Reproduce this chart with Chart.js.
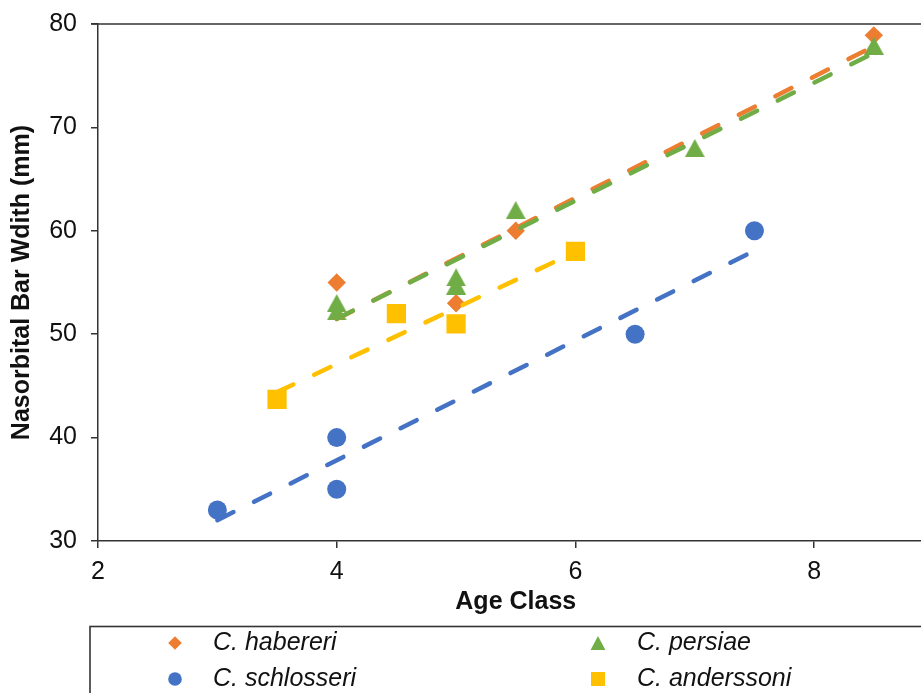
<!DOCTYPE html>
<html>
<head>
<meta charset="utf-8">
<script src="https://cdn.jsdelivr.net/npm/chart.js@4.4.1/dist/chart.umd.min.js"></script>
<style>
  html, body { margin: 0; padding: 0; background: #fff; overflow: hidden; }
  #wrap { width: 940px; height: 693px; }
</style>
</head>
<body>
<div id="wrap"><canvas id="c" width="940" height="693"></canvas></div>
<script>
// ---- Data ----
const seriesNames = ['C. habereri', 'C. persiae', 'C. schlosseri', 'C. anderssoni'];
const seriesColors = ['#ED7D31', '#70AD47', '#4472C4', '#FFC000'];

const ageHabereri = [4, 5, 5.5, 8.5];
const widthHabereri = [55, 53, 60, 78.9];

const agePersiae = [4, 4, 5, 5, 5.5, 7, 8.5];
const widthPersiae = [53, 52.2, 55.5, 54.7, 62, 68, 77.9];

const ageSchlosseri = [3, 4, 4, 6.5, 7.5];
const widthSchlosseri = [33, 40, 35, 50, 60];

const ageAnderssoni = [3.5, 4.5, 5, 6];
const widthAnderssoni = [43.7, 52, 51, 58];

const xTickValues = [2, 4, 6, 8];
const yTickValues = [30, 40, 50, 60, 70, 80];
const xTitle = 'Age Class';
const yTitle = 'Nasorbital Bar Wdith (mm)';

// ---- helpers ----
function toPoints(xs, ys) { return xs.map((x, i) => ({ x: x, y: ys[i] })); }
function linearTrend(xs, ys) {
  const n = xs.length;
  const mx = xs.reduce((a, b) => a + b, 0) / n;
  const my = ys.reduce((a, b) => a + b, 0) / n;
  let sxy = 0, sxx = 0;
  for (let i = 0; i < n; i++) { sxy += (xs[i] - mx) * (ys[i] - my); sxx += (xs[i] - mx) ** 2; }
  const slope = sxy / sxx, icpt = my - slope * mx;
  const x0 = Math.min(...xs), x1 = Math.max(...xs);
  return [{ x: x0, y: icpt + slope * x0 }, { x: x1, y: icpt + slope * x1 }];
}
function triangleImage(w, h, color) {
  const c = document.createElement('canvas');
  c.width = w; c.height = h;
  const g = c.getContext('2d');
  g.fillStyle = color;
  g.beginPath(); g.moveTo(w / 2, 0); g.lineTo(w, h); g.lineTo(0, h); g.closePath(); g.fill();
  return c;
}

const FONT = '"Liberation Sans", Arial, Helvetica, sans-serif';
Chart.defaults.font.family = FONT;
Chart.defaults.color = '#111';

const AXIS_COLOR = '#333333';
const triMarker = triangleImage(20, 18, seriesColors[1]);

const series = [
  { name: seriesNames[0], xs: ageHabereri, ys: widthHabereri, color: seriesColors[0], style: 'rectRot', radius: 9.2 },
  { name: seriesNames[1], xs: agePersiae, ys: widthPersiae, color: seriesColors[1], style: triMarker, radius: 10 },
  { name: seriesNames[2], xs: ageSchlosseri, ys: widthSchlosseri, color: seriesColors[2], style: 'circle', radius: 9.5 },
  { name: seriesNames[3], xs: ageAnderssoni, ys: widthAnderssoni, color: seriesColors[3], style: 'rect', radius: 13.6 }
];

const datasets = [];
series.forEach((s, i) => {
  datasets.push({
    type: 'scatter',
    label: s.name,
    data: toPoints(s.xs, s.ys),
    pointStyle: s.style,
    pointRadius: s.radius,
    pointHoverRadius: s.radius,
    pointBackgroundColor: s.color,
    pointBorderColor: s.color,
    pointBorderWidth: 0,
    backgroundColor: s.color,
    borderColor: s.color,
    showLine: false,
    order: 20 - i
  });
});
series.forEach((s, i) => {
  datasets.push({
    type: 'line',
    label: s.name + ' trend',
    data: linearTrend(s.xs, s.ys),
    borderColor: s.color,
    borderWidth: 4.5,
    borderDash: [18, 23],
    borderCapStyle: 'round',
    pointRadius: 0,
    fill: false,
    order: 10 - i
  });
});

const frameAndLegend = {
  id: 'frameAndLegend',
  afterDraw(chart) {
    const ctx = chart.ctx;
    const a = chart.chartArea;
    ctx.save();
    // top border of the plot area
    ctx.strokeStyle = AXIS_COLOR;
    ctx.lineWidth = 1.5;
    ctx.beginPath();
    ctx.moveTo(a.left - 7, a.top);
    ctx.lineTo(chart.width + 5, a.top);
    ctx.stroke();

    // legend box (runs off the right and bottom edges like the reference)
    ctx.strokeStyle = '#333';
    ctx.lineWidth = 1.6;
    ctx.strokeRect(90, 626.5, chart.width + 20, 100);

    const cols = [{ mx: 175, tx: 213 }, { mx: 598, tx: 637 }];
    const rows = [643, 679];
    const layout = [[0, 1], [2, 3]];
    ctx.font = 'italic 25px ' + FONT;
    ctx.textBaseline = 'middle';
    ctx.textAlign = 'left';
    layout.forEach((r, ri) => {
      r.forEach((si, ci) => {
        const s = series[si];
        const cx = cols[ci].mx, cy = rows[ri];
        ctx.fillStyle = s.color;
        ctx.beginPath();
        if (si === 0) {
          ctx.moveTo(cx, cy - 6.8); ctx.lineTo(cx + 6.8, cy); ctx.lineTo(cx, cy + 6.8); ctx.lineTo(cx - 6.8, cy); ctx.closePath();
        } else if (si === 1) {
          ctx.moveTo(cx, cy - 7); ctx.lineTo(cx + 7.4, cy + 7); ctx.lineTo(cx - 7.4, cy + 7); ctx.closePath();
        } else if (si === 2) {
          ctx.arc(cx, cy, 6.8, 0, Math.PI * 2);
        } else {
          ctx.rect(cx - 7, cy - 7, 14, 14);
        }
        ctx.fill();
        ctx.fillStyle = '#111';
        ctx.fillText(s.name, cols[ci].tx, cy);
      });
    });
    ctx.restore();
  }
};

new Chart(document.getElementById('c'), {
  type: 'scatter',
  data: { datasets: datasets },
  options: {
    responsive: false,
    devicePixelRatio: 1,
    animation: false,
    layout: { autoPadding: false, padding: { top: 24, right: 6.5, bottom: 76, left: 0 } },
    plugins: { legend: { display: false }, tooltip: { enabled: false } },
    scales: {
      x: {
        type: 'linear',
        min: 2, max: 9,
        afterBuildTicks: (sc) => { sc.ticks = xTickValues.map(v => ({ value: v })); },
        afterFit: (sc) => { sc.height = 76; sc.paddingLeft = 0; sc.paddingRight = 0; sc.paddingTop = 0; sc.paddingBottom = 0; },
        grid: { display: true, drawOnChartArea: false, drawTicks: true, tickLength: 7, color: AXIS_COLOR, lineWidth: 1.5 },
        border: { display: true, color: AXIS_COLOR, width: 1.5 },
        ticks: { font: { size: 25 }, color: '#111', padding: 9, maxRotation: 0 },
        title: { display: true, text: xTitle, font: { size: 25, weight: 'bold' }, color: '#111', padding: { top: 0, bottom: 0 } }
      },
      y: {
        type: 'linear',
        min: 30, max: 80,
        afterBuildTicks: (sc) => { sc.ticks = yTickValues.map(v => ({ value: v })); },
        afterFit: (sc) => { sc.width = 98; sc.paddingTop = 0; sc.paddingBottom = 0; sc.paddingLeft = 0; sc.paddingRight = 0; },
        grid: { display: true, drawOnChartArea: false, drawTicks: true, tickLength: 7, color: AXIS_COLOR, lineWidth: 1.5 },
        border: { display: true, color: AXIS_COLOR, width: 1.5 },
        ticks: { font: { size: 25 }, color: '#111', padding: 14 },
        title: { display: true, text: yTitle, font: { size: 25, weight: 'bold' }, color: '#111', padding: { top: 7, bottom: 0 } }
      }
    }
  },
  plugins: [frameAndLegend]
});
</script>
</body>
</html>
